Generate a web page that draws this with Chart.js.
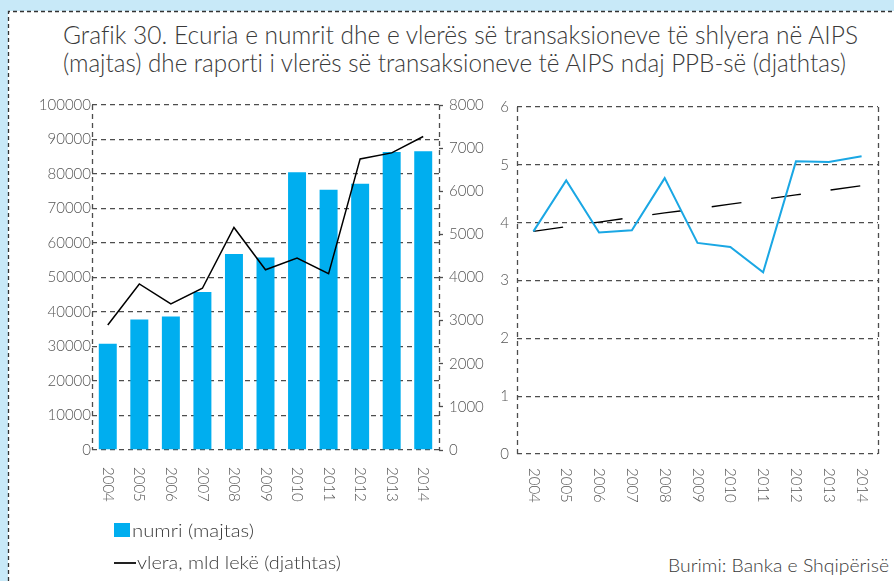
<!DOCTYPE html>
<html><head><meta charset="utf-8">
<script src="https://cdn.jsdelivr.net/npm/chart.js@4.4.1/dist/chart.umd.min.js"></script>
<style>
html,body{margin:0;padding:0}
body{width:894px;height:581px;overflow:hidden;position:relative;background:#c8e9f8;font-family:'Lato','DejaVu Sans',sans-serif;font-weight:300;color:#3a3a3a;font-variant-ligatures:none}
#panel{position:absolute;left:8px;top:11px;width:900px;height:600px;background:#fff}
#frame{position:absolute;left:0;top:0}
.t{position:absolute;white-space:nowrap;transform-origin:0 0;line-height:1;font-variant-ligatures:none;font-feature-settings:"liga" 0,"clig" 0}
canvas{position:absolute}
#sq{position:absolute;left:114px;top:523px;width:16px;height:14px;background:#00aeef}
#ln{position:absolute;left:114px;top:562px;width:22px;height:1.5px;background:#222}
</style></head>
<body>
<div id="panel"></div>
<svg id="frame" width="894" height="581"><path d="M8.5 581 L8.5 11.5 L894 11.5" fill="none" stroke="#333" stroke-width="1.3" stroke-dasharray="4 3"/></svg>
<div class="t" data-w="795" style="left:63px;top:22px;font-size:25px">Grafik 30. Ecuria e numrit dhe e vlerës së transaksioneve të shlyera në AIPS</div>
<div class="t" data-w="783" style="left:63px;top:50px;font-size:25px">(majtas) dhe raporti i vlerës së transaksioneve të AIPS ndaj PPB-së (djathtas)</div>
<canvas id="c1" width="500" height="430" style="left:0;top:90px"></canvas>
<canvas id="c2" width="414" height="430" style="left:480px;top:90px"></canvas>
<div id="sq"></div>
<div class="t" data-w="122" style="left:132px;top:521px;font-size:18px">numri (majtas)</div>
<div id="ln"></div>
<div class="t" data-w="204" style="left:137px;top:553px;font-size:18px">vlera, mld lekë (djathtas)</div>
<div class="t" data-w="221" style="left:668px;top:556px;font-size:18px">Burimi: Banka e Shqipërisë</div>
<script>
// ---- data ----
const years = ['2004','2005','2006','2007','2008','2009','2010','2011','2012','2013','2014'];
const numri = [30800, 37800, 38700, 45800, 56800, 55800, 80500, 75400, 77200, 86400, 86600];
const vlera = [2900, 3850, 3390, 3750, 5160, 4180, 4450, 4090, 6750, 6890, 7270];
const raporti = [3.85, 4.73, 3.83, 3.87, 4.77, 3.65, 3.58, 3.14, 5.06, 5.05, 5.15];
const trendi = [3.85, 3.93, 4.01, 4.09, 4.17, 4.24, 4.32, 4.40, 4.48, 4.56, 4.64];
const leftTicks = {min:0, max:100000, step:10000};
const rightTicks = {min:0, max:8000, step:1000};
const ratioTicks = {min:0, max:6, step:1};

// fit text widths
document.querySelectorAll('.t').forEach(el=>{
  const w = el.getBoundingClientRect().width;
  const target = +el.dataset.w;
  el.style.transform = 'scaleX(' + (target / w) + ')';
});

const FONT = "'Lato','DejaVu Sans',sans-serif";
Chart.defaults.font.family = FONT;
Chart.defaults.font.weight = 300;
const GRID = '#4d4d4d';
const LBL = '#555';
const plain = v => String(v);

const frame = {
  id: 'frame',
  beforeDatasetsDraw(chart){
    const {ctx, chartArea:{left,right,top,bottom}} = chart;
    ctx.save();
    ctx.strokeStyle = GRID; ctx.lineWidth = 1.3; ctx.setLineDash([5,4]);
    ctx.beginPath();
    ctx.moveTo(Math.round(left)+0.5, top); ctx.lineTo(Math.round(left)+0.5, bottom);
    ctx.moveTo(Math.round(right)+0.5, top); ctx.lineTo(Math.round(right)+0.5, bottom);
    ctx.stroke();
    ctx.restore();
  }
};
const vLabels = {
  id: 'vLabels',
  afterDraw(chart, args, opts){
    const {ctx} = chart; const xs = chart.scales.x;
    ctx.save();
    ctx.font = '300 15px ' + FONT; ctx.fillStyle = LBL;
    ctx.textAlign = 'left'; ctx.textBaseline = 'middle';
    chart.data.labels.forEach((l,i)=>{
      const px = xs.getPixelForTick(i);
      ctx.save(); ctx.translate(px, xs.top + opts.gap); ctx.rotate(Math.PI/2);
      ctx.fillText(l, 0, 0); ctx.restore();
    });
    ctx.restore();
  }
};

new Chart(document.getElementById('c1'), {
  type: 'bar',
  data: { labels: years, datasets: [
    { type:'line', data: vlera, yAxisID:'y1', borderColor:'#000', borderWidth:1.5, pointRadius:0, tension:0, order:0 },
    { type:'bar', data: numri, yAxisID:'y', backgroundColor:'#00aeef', barPercentage:0.57, categoryPercentage:1, order:1 }
  ]},
  options: {
    responsive:false, animation:false, devicePixelRatio:1,
    layout:{padding:{top:14,bottom:10,left:0,right:0}},
    plugins:{legend:{display:false}, tooltip:{enabled:false}, vLabels:{gap:17}},
    scales:{
      x:{grid:{display:false}, border:{display:false}, ticks:{display:false}, afterFit(s){s.height=60;}},
      y:{position:'left', min:leftTicks.min, max:leftTicks.max,
         ticks:{stepSize:leftTicks.step, color:LBL, font:{size:15}, padding:1, callback:plain},
         grid:{color:GRID, lineWidth:1.3, drawTicks:false},
         border:{display:false, dash:[5,4]}, afterFit(s){s.width=92;}},
      y1:{position:'right', min:rightTicks.min, max:rightTicks.max,
         ticks:{stepSize:rightTicks.step, color:LBL, font:{size:15}, padding:6, callback:plain},
         grid:{drawOnChartArea:false, tickLength:4, tickColor:GRID, tickWidth:1.3},
         border:{display:false}, afterFit(s){s.width=61;}}
    }
  },
  plugins:[frame, vLabels]
});

new Chart(document.getElementById('c2'), {
  type: 'line',
  data: { labels: years, datasets: [
    { data: raporti, borderColor:'#1aa7e4', borderWidth:2, pointRadius:0, tension:0 },
    { data: trendi, borderColor:'#000', borderWidth:1.4, borderDash:[30,30], pointRadius:0, tension:0 }
  ]},
  options: {
    responsive:false, animation:false, devicePixelRatio:1,
    layout:{padding:{top:17,bottom:10,left:0,right:16}},
    plugins:{legend:{display:false}, tooltip:{enabled:false}, vLabels:{gap:14}},
    scales:{
      x:{offset:true, grid:{display:false}, border:{display:false}, ticks:{display:false}, afterFit(s){s.height=56;}},
      y:{min:ratioTicks.min, max:ratioTicks.max,
         ticks:{stepSize:ratioTicks.step, color:LBL, font:{size:15}, padding:8, callback:plain},
         grid:{color:GRID, lineWidth:1.3, drawTicks:false},
         border:{display:false, dash:[5,4]}, afterFit(s){s.width=37;}}
    }
  },
  plugins:[frame, vLabels]
});
</script>
</body></html>
